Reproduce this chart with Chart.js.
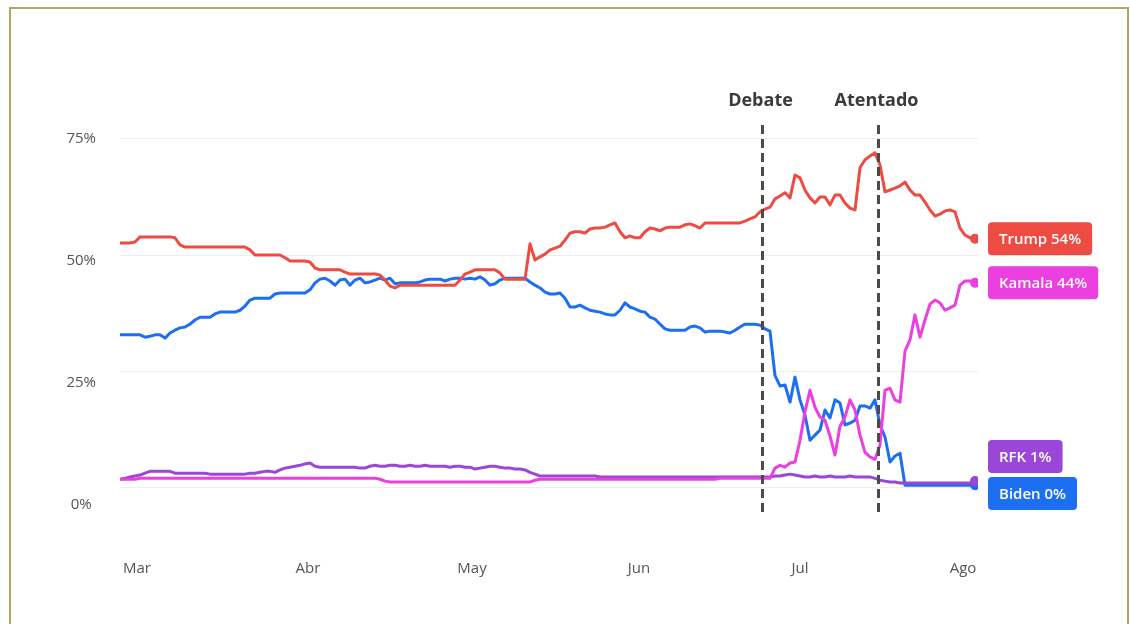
<!DOCTYPE html>
<html lang="es">
<head>
<meta charset="utf-8">
<title>Elecciones EE. UU. 2024</title>
<script src="https://cdn.jsdelivr.net/npm/chart.js@4.4.1/dist/chart.umd.min.js"></script>
<style>
  html, body { margin: 0; padding: 0; background: #fff; overflow: hidden; }
  .frame { position: absolute; left: 9px; top: 7px; width: 1116px; height: 700px; border: 2px solid #b3a466; }
  #chart { position: absolute; left: 0; top: 0; }
</style>
</head>
<body>
<div class="frame"></div>
<canvas id="chart" width="1130" height="624"></canvas>
<script>
// x runs over sample index, one sample per step along the period
const monthLabels = ['Mar', 'Abr', 'May', 'Jun', 'Jul', 'Ago'];
const monthTicks = [3.4, 37.6, 70.4, 103.8, 136, 168.6];
const yTicks = [0, 25, 50, 75];

const eventLabels = ['Debate', 'Atentado'];
const eventAt = [128.4, 151.6];

const trump = [
    52.6, 52.6, 52.6, 52.8, 53.9, 53.9, 53.9, 53.9, 53.9, 53.9,
    53.9, 53.7, 52.2, 51.7, 51.7, 51.7, 51.7, 51.7, 51.7, 51.7,
    51.7, 51.7, 51.7, 51.7, 51.7, 51.7, 51.1, 50.0, 50.0, 50.0,
    50.0, 50.0, 50.0, 49.4, 48.7, 48.7, 48.7, 48.7, 48.5, 47.2,
    46.8, 46.8, 46.8, 46.8, 46.8, 46.3, 45.9, 45.9, 45.9, 45.9,
    45.9, 45.9, 45.7, 44.6, 43.3, 42.9, 43.5, 43.5, 43.5, 43.5,
    43.5, 43.5, 43.5, 43.5, 43.5, 43.5, 43.5, 43.5, 44.6, 45.9,
    46.3, 46.8, 46.8, 46.8, 46.8, 46.8, 46.1, 44.8, 44.8, 44.8,
    44.8, 44.8, 52.4, 48.9, 49.6, 50.2, 51.1, 51.5, 51.9, 53.2,
    54.7, 55.0, 55.0, 54.7, 55.6, 55.8, 55.8, 56.0, 56.5, 56.9,
    55.0, 53.7, 54.1, 53.7, 53.7, 55.0, 55.8, 55.6, 55.2, 55.8,
    56.0, 56.0, 56.0, 56.5, 56.7, 56.3, 55.8, 56.9, 56.9, 56.9,
    56.9, 56.9, 56.9, 56.9, 56.9, 57.3, 57.8, 58.2, 59.3, 59.9,
    60.3, 62.1, 62.7, 63.4, 62.3, 67.2, 66.6, 64.0, 62.3, 61.2,
    62.5, 62.5, 60.8, 62.9, 62.9, 61.2, 60.1, 59.7, 68.8, 70.5,
    71.3, 72.0, 69.4, 63.6, 64.0, 64.4, 64.9, 65.7, 64.0, 62.9,
    62.9, 61.4, 59.7, 58.4, 58.8, 59.5, 59.7, 59.3, 55.8, 54.3,
    53.7, 53.5,
];

const kamala = [
    1.7, 1.7, 1.7, 1.7, 1.9, 1.9, 1.9, 1.9, 1.9, 1.9,
    1.9, 1.9, 1.9, 1.9, 1.9, 1.9, 1.9, 1.9, 1.9, 1.9,
    1.9, 1.9, 1.9, 1.9, 1.9, 1.9, 1.9, 1.9, 1.9, 1.9,
    1.9, 1.9, 1.9, 1.9, 1.9, 1.9, 1.9, 1.9, 1.9, 1.9,
    1.9, 1.9, 1.9, 1.9, 1.9, 1.9, 1.9, 1.9, 1.9, 1.9,
    1.9, 1.9, 1.7, 1.3, 1.1, 1.1, 1.1, 1.1, 1.1, 1.1,
    1.1, 1.1, 1.1, 1.1, 1.1, 1.1, 1.1, 1.1, 1.1, 1.1,
    1.1, 1.1, 1.1, 1.1, 1.1, 1.1, 1.1, 1.1, 1.1, 1.1,
    1.1, 1.1, 1.1, 1.5, 1.7, 1.7, 1.7, 1.7, 1.7, 1.7,
    1.7, 1.7, 1.7, 1.7, 1.7, 1.7, 1.7, 1.7, 1.7, 1.7,
    1.7, 1.7, 1.7, 1.7, 1.7, 1.7, 1.7, 1.7, 1.7, 1.7,
    1.7, 1.7, 1.7, 1.7, 1.7, 1.7, 1.7, 1.7, 1.7, 1.7,
    1.9, 1.9, 1.9, 1.9, 1.9, 1.9, 1.9, 1.9, 1.9, 1.9,
    1.9, 4.1, 4.7, 4.3, 5.2, 5.4, 10.1, 16.2, 20.9, 17.2,
    15.1, 14.4, 11.0, 6.9, 13.1, 15.1, 18.8, 16.6, 11.2, 7.5,
    6.5, 6.0, 9.1, 20.9, 21.3, 18.8, 18.3, 29.3, 31.7, 37.1,
    32.3, 36.0, 39.4, 40.3, 39.7, 38.1, 38.6, 39.2, 43.5, 44.4,
    44.4, 44.0,
];

const rfk = [
    1.7, 1.9, 2.2, 2.4, 2.6, 3.0, 3.4, 3.4, 3.4, 3.4,
    3.4, 3.0, 3.0, 3.0, 3.0, 3.0, 3.0, 3.0, 2.8, 2.8,
    2.8, 2.8, 2.8, 2.8, 2.8, 2.8, 3.0, 3.0, 3.2, 3.4,
    3.4, 3.2, 3.7, 4.1, 4.3, 4.5, 4.7, 5.0, 5.2, 4.5,
    4.3, 4.3, 4.3, 4.3, 4.3, 4.3, 4.3, 4.3, 4.1, 4.1,
    4.5, 4.7, 4.5, 4.5, 4.7, 4.7, 4.5, 4.5, 4.7, 4.5,
    4.5, 4.7, 4.5, 4.5, 4.5, 4.5, 4.3, 4.5, 4.5, 4.3,
    4.3, 3.9, 4.1, 4.3, 4.5, 4.5, 4.3, 4.1, 4.1, 3.9,
    3.9, 3.7, 3.2, 2.8, 2.4, 2.4, 2.4, 2.4, 2.4, 2.4,
    2.4, 2.4, 2.4, 2.4, 2.4, 2.4, 2.2, 2.2, 2.2, 2.2,
    2.2, 2.2, 2.2, 2.2, 2.2, 2.2, 2.2, 2.2, 2.2, 2.2,
    2.2, 2.2, 2.2, 2.2, 2.2, 2.2, 2.2, 2.2, 2.2, 2.2,
    2.2, 2.2, 2.2, 2.2, 2.2, 2.2, 2.2, 2.2, 2.2, 2.2,
    2.2, 2.4, 2.4, 2.6, 2.8, 2.6, 2.4, 2.2, 2.2, 2.4,
    2.2, 2.2, 2.4, 2.2, 2.2, 2.2, 2.4, 2.2, 2.2, 2.2,
    2.2, 1.9, 1.5, 1.3, 1.1, 1.1, 0.9, 0.9, 0.9, 0.9,
    0.9, 0.9, 0.9, 0.9, 0.9, 0.9, 0.9, 0.9, 0.9, 0.9,
    0.9, 1.3,
];

const biden = [
    32.8, 32.8, 32.8, 32.8, 32.8, 32.3, 32.5, 32.8, 32.8, 32.1,
    33.2, 33.8, 34.3, 34.5, 35.1, 36.0, 36.6, 36.6, 36.6, 37.3,
    37.7, 37.7, 37.7, 37.7, 38.1, 39.0, 40.3, 40.7, 40.7, 40.7,
    40.7, 41.6, 41.8, 41.8, 41.8, 41.8, 41.8, 41.8, 42.5, 44.0,
    44.8, 45.0, 44.4, 43.5, 44.6, 44.8, 43.5, 44.6, 45.0, 44.0,
    44.2, 44.6, 45.0, 44.6, 45.0, 43.8, 44.0, 44.0, 44.0, 44.0,
    44.2, 44.6, 44.8, 44.8, 44.8, 44.4, 44.8, 45.0, 45.0, 44.8,
    45.0, 44.8, 45.3, 44.6, 43.5, 43.8, 44.6, 45.0, 45.0, 45.0,
    45.0, 45.0, 44.2, 43.5, 42.9, 42.0, 41.6, 41.6, 41.8, 40.7,
    38.8, 38.8, 39.2, 38.6, 38.1, 37.9, 37.7, 37.3, 37.1, 37.1,
    38.1, 39.7, 38.8, 38.4, 37.9, 37.7, 36.6, 36.2, 35.1, 34.1,
    33.8, 33.8, 33.8, 33.8, 34.5, 34.7, 34.3, 33.4, 33.6, 33.6,
    33.6, 33.4, 33.2, 33.8, 34.5, 35.1, 35.1, 35.1, 34.9, 34.1,
    33.6, 24.0, 21.8, 22.0, 18.3, 23.7, 18.8, 15.5, 10.1, 11.2,
    12.3, 16.6, 14.9, 18.8, 18.1, 13.4, 13.8, 14.4, 17.5, 17.5,
    17.0, 18.8, 13.4, 10.8, 5.4, 6.7, 7.3, 0.4, 0.4, 0.4,
    0.4, 0.4, 0.4, 0.4, 0.4, 0.4, 0.4, 0.4, 0.4, 0.4,
    0.4, 0.4,
];

const seriesNames = ['Trump', 'Kamala', 'RFK', 'Biden'];
const seriesValues = [trump, kamala, rfk, biden];
const seriesColors = ['#ee4b43', '#ec3fe0', '#9a46d8', '#1c6ff0'];

Chart.defaults.font.family = '"Open Sans", sans-serif';

// dashed vertical markers with a bold caption above the plot
const eventLines = {
    id: 'eventLines',
    afterDatasetsDraw(chart) {
        const { ctx, chartArea, scales } = chart;
        ctx.save();
        eventAt.forEach((at, i) => {
            const x = Math.round(scales.x.getPixelForValue(at)) + 0.5;
            ctx.strokeStyle = '#4d4a45';
            ctx.lineWidth = 3;
            ctx.setLineDash([9, 5]);
            ctx.beginPath();
            ctx.moveTo(x, chartArea.top);
            ctx.lineTo(x, chartArea.bottom);
            ctx.stroke();

            ctx.setLineDash([]);
            ctx.fillStyle = '#3a3a3a';
            ctx.font = 'bold 18px "Open Sans", sans-serif';
            ctx.textAlign = 'center';
            ctx.textBaseline = 'middle';
            ctx.fillText(eventLabels[i], x - 2, chartArea.top - 24);
        });
        ctx.restore();
    },
};

// coloured value tags next to the last point of every series
const endTags = {
    id: 'endTags',
    afterDatasetsDraw(chart) {
        const { ctx, chartArea, scales } = chart;
        const h = 33;
        const gap = 4;
        const tags = chart.data.datasets.map((ds) => {
            const last = ds.data[ds.data.length - 1].y;
            return {
                text: `${ds.label} ${Math.round(last)}%`,
                color: ds.borderColor,
                y: scales.y.getPixelForValue(last),
            };
        }).sort((a, b) => a.y - b.y);

        for (let i = 1; i < tags.length; i++) {
            tags[i].y = Math.max(tags[i].y, tags[i - 1].y + h + gap);
        }
        const maxY = chartArea.bottom - h / 2 - 5;
        tags[tags.length - 1].y = Math.min(tags[tags.length - 1].y, maxY);
        for (let i = tags.length - 2; i >= 0; i--) {
            tags[i].y = Math.min(tags[i].y, tags[i + 1].y - h - gap);
        }

        ctx.save();
        ctx.font = '600 15px "Open Sans", sans-serif';
        ctx.textBaseline = 'middle';
        ctx.textAlign = 'left';
        tags.forEach((tag) => {
            const w = ctx.measureText(tag.text).width + 22;
            const x = chartArea.right + 10;
            ctx.fillStyle = tag.color;
            ctx.beginPath();
            ctx.roundRect(x, tag.y - h / 2, w, h, 4);
            ctx.fill();
            ctx.fillStyle = '#ffffff';
            ctx.fillText(tag.text, x + 11, tag.y + 1);
        });
        ctx.restore();
    },
};

new Chart(document.getElementById('chart'), {
    type: 'line',
    data: {
        datasets: seriesNames.map((name, index) => ({
            label: name,
            data: seriesValues[index].map((v, i) => ({ x: i, y: v })),
            borderColor: seriesColors[index],
            backgroundColor: seriesColors[index],
            borderWidth: 3,
            borderJoinStyle: 'round',
            tension: 0,
            pointRadius: (ctx) => (ctx.dataIndex === seriesValues[index].length - 1 ? 5 : 0),
            pointBorderWidth: 0,
        })),
    },
    options: {
        responsive: false,
        animation: false,
        layout: { padding: { left: 40, right: 152, top: 125, bottom: 0 } },
        plugins: {
            legend: { display: false },
            tooltip: { enabled: false },
        },
        scales: {
            x: {
                type: 'linear',
                min: 0,
                max: 171.6,
                grid: { display: false },
                border: { display: false },
                afterBuildTicks: (axis) => { axis.ticks = monthTicks.map((v) => ({ value: v })); },
                afterFit: (axis) => { axis.height = 109; },
                ticks: {
                    autoSkip: false,
                    maxRotation: 0,
                    padding: 37,
                    color: '#555',
                    font: { size: 15 },
                    callback: (value, index) => monthLabels[index],
                },
            },
            y: {
                position: 'left',
                min: -6,
                max: 78,
                grid: { color: '#eeeeee', drawTicks: false },
                border: { display: false },
                afterBuildTicks: (axis) => { axis.ticks = yTicks.map((v) => ({ value: v })); },
                afterFit: (axis) => { axis.width = 0; },
                ticks: { display: false },
            },
            yLabels: {
                position: 'left',
                min: -2.05,
                max: 77.87,
                grid: { display: false },
                border: { display: false },
                afterBuildTicks: (axis) => { axis.ticks = yTicks.map((v) => ({ value: v })); },
                afterFit: (axis) => { axis.width = 80; },
                ticks: {
                    crossAlign: 'center',
                    padding: 16,
                    color: '#555',
                    font: { size: 15 },
                    callback: (value) => `${value}%`,
                },
            },
        },
    },
    plugins: [eventLines, endTags],
});
</script>
</body>
</html>
